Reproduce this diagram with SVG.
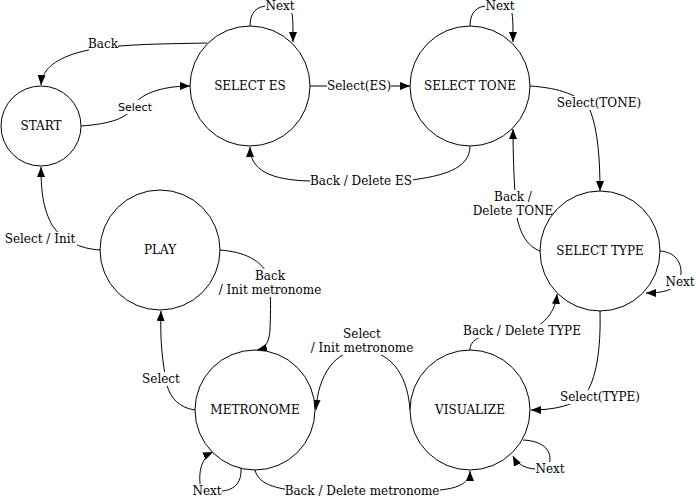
<svg xmlns="http://www.w3.org/2000/svg" width="696" height="498" viewBox="0 0 696 498">
<style>
.n{fill:#fff;stroke:#000;stroke-width:1}
.t{font-family:"DejaVu Serif",serif;font-size:12px;text-anchor:middle;dominant-baseline:central;fill:#000}
.s{font-family:"DejaVu Sans",sans-serif;font-size:11px;text-anchor:middle;dominant-baseline:central;fill:#000}
.e{fill:none;stroke:#000;stroke-width:1;marker-end:url(#a)}
.bg{fill:#fff}
</style>
<defs>
<marker id="a" viewBox="0 0 10 8" refX="10" refY="4" markerWidth="10" markerHeight="8" markerUnits="userSpaceOnUse" orient="auto">
<path d="M0,0 L10,4 L0,8 z" fill="#000"/>
</marker>
</defs>
<rect width="696" height="498" fill="#fff"/>
<g id="connectors">
<path class="e" d="M207,43 C160,44 110,44 80,52 C58,58 42,68 41,85"/>
<path class="e" d="M81,126 C110,124 128,118 133,107 C138,95 160,86 190,86"/>
<path class="e" d="M250,26 C250,12 257,6 268,6 L286,6 C293,6 293,16 293,42"/>
<path class="e" d="M310,86 L410,86"/>
<path class="e" d="M470,26 C470,12 477,6 488,6 L506,6 C513,6 513,16 513,42"/>
<path class="e" d="M470,146 C470,170 440,176 412,180 L310,181 C270,180 250,170 250,147"/>
<path class="e" d="M530,86 C560,88 580,95 590,110 C598,130 600,160 600,191"/>
<path class="e" d="M540,251 C526,246 518,230 516,210 C514,180 513,155 513,129"/>
<path class="e" d="M660,251 C675,252 681,262 681,272 C681,288 668,293 646,293"/>
<path class="e" d="M600,311 C601,350 596,380 585,395 C575,405 555,410 531,410"/>
<path class="e" d="M470,350 C470,340 480,332 520,331 C540,330 555,315 557,294"/>
<path class="e" d="M523,440 C545,441 553,452 549,465 C540,472 520,470 513,456"/>
<path class="e" d="M410,410 C408,380 395,352 362,350 C335,350 318,375 316,410"/>
<path class="e" d="M255,470 C258,482 270,487 290,490 L440,490 C460,488 470,482 470,471"/>
<path class="e" d="M241,468 C242,485 232,490 222,491 L201,490 C198,475 200,458 213,452"/>
<path class="e" d="M195,410 C180,408 170,398 167,385 C162,360 160,340 161,311"/>
<path class="e" d="M220,250 C245,252 258,260 265,270 C271,280 271,300 270,330 C269,342 266,348 257,350"/>
<path class="e" d="M100,250 C80,249 62,240 52,225 C44,210 41,195 41,167"/>
</g>
<g id="labels">
<rect class="bg" x="89" y="37" width="29" height="14"/><text class="t" x="103" y="44">Back</text>
<rect class="bg" x="118" y="100" width="35" height="14"/><text class="s" x="135" y="107">Select</text>
<rect class="bg" x="265" y="0" width="30" height="13"/><text class="t" x="280" y="6">Next</text>
<rect class="bg" x="327" y="79" width="64" height="14"/><text class="t" x="359" y="86">Select(ES)</text>
<rect class="bg" x="485" y="0" width="30" height="13"/><text class="t" x="500" y="6">Next</text>
<rect class="bg" x="310" y="174" width="103" height="14"/><text class="t" x="361" y="181">Back / Delete ES</text>
<rect class="bg" x="557" y="96" width="85" height="14"/><text class="t" x="599" y="103">Select(TONE)</text>
<rect class="bg" x="472" y="190" width="82" height="28"/><text class="t" x="513" y="197">Back /</text><text class="t" x="513" y="211">Delete TONE</text>
<rect class="bg" x="665" y="275" width="30" height="14"/><text class="t" x="680" y="282">Next</text>
<rect class="bg" x="560" y="390" width="80" height="14"/><text class="t" x="600" y="397">Select(TYPE)</text>
<rect class="bg" x="463" y="324" width="119" height="14"/><text class="t" x="522" y="331">Back / Delete TYPE</text>
<rect class="bg" x="535" y="462" width="30" height="14"/><text class="t" x="550" y="469">Next</text>
<rect class="bg" x="310" y="327" width="104" height="28"/><text class="t" x="362" y="334">Select</text><text class="t" x="362" y="348">/ Init metronome</text>
<rect class="bg" x="285" y="484" width="155" height="14"/><text class="t" x="362" y="491">Back / Delete metronome</text>
<rect class="bg" x="192" y="484" width="30" height="14"/><text class="t" x="207" y="491">Next</text>
<rect class="bg" x="142" y="372" width="38" height="14"/><text class="t" x="161" y="379">Select</text>
<rect class="bg" x="218" y="269" width="104" height="28"/><text class="t" x="270" y="276">Back</text><text class="t" x="270" y="290">/ Init metronome</text>
<rect class="bg" x="4" y="232" width="73" height="14"/><text class="t" x="40" y="239">Select / Init</text>
</g>
<g id="START"><circle class="n" cx="41" cy="126" r="40"/><text class="t" x="41" y="126">START</text></g>
<g id="SELECT_ES"><circle class="n" cx="250" cy="86" r="60"/><text class="t" x="250" y="86">SELECT ES</text></g>
<g id="SELECT_TONE"><circle class="n" cx="470" cy="86" r="60"/><text class="t" x="470" y="86">SELECT TONE</text></g>
<g id="SELECT_TYPE"><circle class="n" cx="600" cy="251" r="60"/><text class="t" x="600" y="251">SELECT TYPE</text></g>
<g id="PLAY"><circle class="n" cx="160" cy="250" r="60"/><text class="t" x="160" y="250">PLAY</text></g>
<g id="METRONOME"><circle class="n" cx="255" cy="410" r="60"/><text class="t" x="255" y="410">METRONOME</text></g>
<g id="VISUALIZE"><circle class="n" cx="470" cy="410" r="60"/><text class="t" x="470" y="410">VISUALIZE</text></g>
</svg>
